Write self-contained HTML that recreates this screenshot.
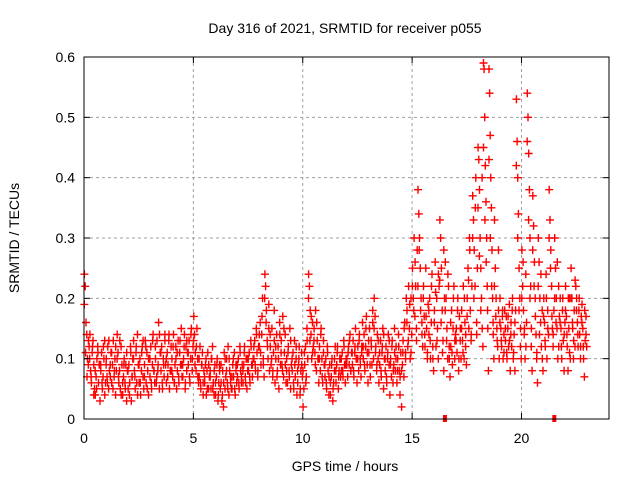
<!DOCTYPE html>
<html><head><meta charset="utf-8"><style>
body{margin:0;background:#fff}
svg{display:block;font-family:"Liberation Sans",sans-serif}
</style></head><body>
<svg id="chart" width="640" height="480">
<rect width="640" height="480" fill="#fff"/>
<g id="grid"></g>
<g id="pts"></g>
<rect x="84" y="57" width="525" height="362" fill="none" stroke="#000" stroke-width="1"/>
<g id="ticks"></g>
<text x="345" y="33" text-anchor="middle" font-size="14">Day 316 of 2021, SRMTID for receiver p055</text>
<text x="345" y="471" text-anchor="middle" font-size="14">GPS time / hours</text>
<text transform="translate(19,238) rotate(-90)" text-anchor="middle" font-size="14">SRMTID / TECUs</text>
</svg>
<script>
const xTicks=[0,5,10,15,20];
const yTicks=[0,0.1,0.2,0.3,0.4,0.5,0.6];
const yTickLabels=["0","0.1","0.2","0.3","0.4","0.5","0.6"];
const gapMarks=[16.5,21.5];
const binStart=[0,0.25,0.5,0.75,1,1.25,1.5,1.75,2,2.25,2.5,2.75,3,3.25,3.5,3.75,4,4.25,4.5,4.75,5,5.25,5.5,5.75,6,6.25,6.5,6.75,7,7.25,7.5,7.75,8,8.25,8.5,8.75,9,9.25,9.5,9.75,10,10.25,10.5,10.75,11,11.25,11.5,11.75,12,12.25,12.5,12.75,13,13.25,13.5,13.75,14,14.25,14.5,14.75,15,15.25,15.5,15.75,16,16.25,16.5,16.75,17,17.25,17.5,17.75,18,18.25,18.5,18.75,19,19.25,19.5,19.75,20,20.25,20.5,20.75,21,21.25,21.5,21.75,22,22.25,22.5,22.75];
const binValues=[
[.24,.22,.16,.14,.10,.09,.12],[.14,.08,.06,.11,.13,.09,.05],[.04,.07,.1,.12,.06,.09,.03],[.08,.11,.05,.07,.1,.13,.06],
[.1,.07,.12,.05,.08,.09,.11],[.06,.09,.13,.07,.1,.04,.08],[.14,.11,.06,.08,.05,.12,.09],[.04,.07,.1,.06,.09,.03,.08],
[.05,.09,.06,.12,.03,.07,.1],[.13,.08,.05,.11,.06,.14,.09],[.06,.1,.04,.08,.12,.07,.05],[.09,.13,.06,.11,.08,.04,.1],
[.07,.12,.05,.09,.14,.08,.06],[.1,.06,.13,.08,.16,.05,.11],[.08,.12,.05,.1,.07,.14,.09],[.06,.11,.09,.13,.05,.08,.12],
[.1,.07,.14,.06,.09,.12,.05],[.08,.13,.06,.11,.09,.15,.07],[.07,.1,.14,.05,.12,.08,.11],[.09,.13,.06,.1,.15,.08,.12],
[.17,.14,.11,.08,.15,.1,.06],[.07,.12,.05,.09,.11,.06,.08],[.06,.09,.04,.08,.11,.05,.07],[.08,.05,.1,.12,.06,.04,.09],
[.04,.07,.1,.03,.06,.09,.05],[.06,.03,.08,.02,.11,.05,.07],[.1,.06,.12,.04,.08,.07,.05],[.05,.09,.07,.11,.04,.08,.06],
[.07,.1,.05,.12,.08,.06,.09],[.06,.09,.12,.07,.1,.05,.08],[.08,.11,.06,.13,.09,.07,.1],[.1,.13,.08,.15,.11,.07,.12],
[.12,.16,.09,.14,.2,.1,.07],[.24,.22,.18,.13,.1,.15,.08],[.12,.09,.15,.07,.11,.18,.06],[.1,.14,.08,.12,.05,.16,.09],
[.13,.09,.17,.07,.11,.14,.06],[.1,.06,.12,.08,.15,.05,.09],[.08,.11,.05,.13,.07,.1,.04],[.06,.09,.12,.04,.08,.11,.07],
[.02,.05,.09,.12,.07,.15,.1],[.24,.22,.18,.14,.1,.16,.12],[.15,.11,.18,.08,.13,.1,.06],[.12,.08,.15,.1,.06,.13,.09],
[.07,.1,.05,.12,.08,.04,.09],[.04,.07,.1,.03,.06,.08,.12],[.06,.09,.12,.05,.08,.1,.07],[.08,.11,.07,.13,.09,.06,.1],
[.1,.07,.12,.09,.14,.08,.11],[.09,.13,.07,.11,.15,.1,.06],[.12,.08,.14,.1,.07,.11,.16],[.1,.14,.08,.12,.17,.09,.06],
[.11,.15,.07,.13,.09,.18,.1],[.2,.17,.12,.08,.14,.1,.06],[.09,.13,.07,.11,.15,.05,.1],[.08,.12,.06,.1,.14,.09,.04],
[.1,.07,.13,.06,.09,.15,.08],[.12,.06,.1,.14,.08,.04,.11],[.02,.09,.13,.07,.16,.11,.2],[.18,.12,.22,.15,.1,.2,.14],
[.25,.2,.3,.17,.22,.15,.28],[.38,.34,.3,.25,.2,.16,.12],[.22,.17,.12,.25,.15,.1,.19],[.14,.2,.1,.16,.24,.12,.08],
[.18,.26,.12,.2,.15,.1,.22],[.33,.3,.25,.18,.13,.08,.2],[.26,.2,.15,.1,.22,.12,.07],[.12,.18,.09,.15,.22,.1,.14],
[.15,.11,.2,.08,.17,.13,.1],[.18,.13,.22,.1,.16,.12,.09],[.2,.25,.15,.3,.18,.13,.22],[.37,.33,.28,.22,.4,.16,.25],
[.45,.43,.38,.3,.25,.2,.15,.12],[.59,.58,.5,.42,.36,.3,.22,.15,.08],[.58,.54,.47,.4,.35,.28,.2,.14,.1],[.33,.25,.2,.15,.12,.18,.1],
[.2,.15,.12,.17,.1,.14,.18],[.13,.17,.1,.15,.12,.19,.08],[.16,.12,.2,.1,.14,.08,.18],[.53,.46,.4,.34,.25,.2,.15,.1],
[.28,.22,.18,.14,.1,.24,.16],[.54,.5,.44,.38,.3,.22,.15,.08],[.37,.32,.26,.2,.14,.1,.06],[.3,.26,.2,.16,.12,.18,.08],
[.2,.16,.12,.24,.1,.18,.14],[.38,.33,.28,.22,.15,.12,.18],[.3,.25,.2,.15,.1,.22,.17],[.2,.15,.1,.18,.13,.08,.16],
[.22,.17,.12,.08,.15,.2,.1],[.25,.2,.15,.1,.18,.12,.22],[.2,.16,.12,.18,.14,.1,.17],[.19,.15,.1,.07,.13,.17,.12]
];
const binValuesB=[
[.19,.11,.07,.13],[.1,.07,.12,.04],[.08,.05,.11,.09],[.09,.06,.12,.04],
[.09,.06,.13,.07],[.11,.05,.08,.12],[.1,.07,.13,.04],[.06,.09,.05,.11],
[.08,.04,.11,.07],[.1,.07,.12,.04],[.09,.06,.11,.13],[.07,.12,.05,.1],
[.1,.06,.13,.08],[.12,.07,.09,.14],[.11,.06,.09,.13],[.1,.07,.14,.08],
[.08,.12,.06,.1],[.11,.07,.13,.09],[.09,.12,.06,.13],[.11,.07,.14,.1],
[.13,.09,.12,.07],[.1,.06,.09,.04],[.07,.1,.05,.09],[.07,.1,.05,.08],
[.06,.09,.04,.08],[.09,.04,.06,.1],[.08,.05,.1,.06],[.07,.1,.05,.09],
[.09,.06,.11,.07],[.08,.11,.06,.1],[.1,.07,.12,.09],[.12,.09,.14,.08],
[.14,.11,.17,.09],[.2,.16,.12,.19],[.14,.1,.08,.13],[.12,.07,.1,.14],
[.11,.08,.15,.09],[.08,.11,.07,.13],[.1,.06,.09,.12],[.08,.1,.05,.09],
[.08,.11,.06,.13],[.2,.13,.17,.11],[.13,.09,.16,.1],[.1,.14,.07,.11],
[.09,.06,.11,.07],[.06,.09,.05,.1],[.08,.11,.07,.1],[.1,.08,.12,.09],
[.09,.11,.13,.08],[.11,.08,.12,.1],[.1,.13,.09,.12],[.12,.09,.15,.11],
[.13,.09,.12,.16],[.15,.11,.09,.13],[.11,.08,.12,.14],[.1,.07,.11,.13],
[.09,.12,.08,.11],[.1,.08,.12,.07],[.08,.11,.15,.1],[.16,.13,.19,.11],
[.22,.18,.26,.13],[.22,.28,.18,.14],[.2,.14,.17,.11],[.18,.13,.22,.1],
[.16,.21,.13,.24],[.23,.16,.11,.28],[.18,.13,.24,.1],[.16,.11,.2,.13],
[.13,.18,.1,.15],[.15,.11,.2,.14],[.17,.23,.28,.14],[.3,.2,.35,.14],
[.35,.27,.18,.4],[.45,.33,.26,.18],[.43,.3,.22,.16],[.22,.17,.13,.28],
[.16,.13,.18,.11],[.15,.11,.17,.13],[.14,.18,.11,.16],[.42,.3,.18,.12],
[.2,.26,.15,.12],[.46,.33,.2,.12],[.28,.22,.17,.11],[.22,.14,.24,.1],
[.17,.13,.2,.15],[.3,.25,.17,.14],[.2,.16,.26,.12],[.16,.12,.2,.14],
[.18,.14,.2,.11],[.2,.16,.13,.23],[.18,.14,.2,.12],[.16,.12,.18,.14]
];
const X0=84,X1=609,Y0=419,Y1=57,XMAX=24,YMAX=0.6,BIN=0.25;
function xs(v){return X0+(v/XMAX)*(X1-X0);}
function ys(v){return Y0-(v/YMAX)*(Y0-Y1);}
const NS="http://www.w3.org/2000/svg";
const grid=document.getElementById('grid'),ticks=document.getElementById('ticks'),pts=document.getElementById('pts');
function mk(tag,attrs,parent){const e=document.createElementNS(NS,tag);for(const k in attrs)e.setAttribute(k,attrs[k]);parent.appendChild(e);return e;}
xTicks.forEach(t=>{
  const x=xs(t);
  if(t>0){const g=mk('line',{x1:x,x2:x,y1:Y1,y2:Y0,stroke:'#a0a0a0','stroke-dasharray':'3,3'},grid);
  
  }
  mk('line',{x1:x,x2:x,y1:Y0,y2:Y0-6,stroke:'#000'},ticks);
  mk('line',{x1:x,x2:x,y1:Y1,y2:Y1+6,stroke:'#000'},ticks);
  const l=mk('text',{x:x,y:Y0+24,'text-anchor':'middle','font-size':'14'},ticks);
  l.textContent=t;
  
  
});
yTicks.forEach((t,i)=>{
  const y=ys(t);
  if(i>0&&i<yTicks.length-1){const g=mk('line',{x1:X0,x2:X1,y1:y,y2:y,stroke:'#a0a0a0','stroke-dasharray':'3,3'},grid);
  
  }
  mk('line',{x1:X0,x2:X0+6,y1:y,y2:y,stroke:'#000'},ticks);
  mk('line',{x1:X1,x2:X1-6,y1:y,y2:y,stroke:'#000'},ticks);
  const l=mk('text',{x:X0-9,y:y+5,'text-anchor':'end','font-size':'14'},ticks);
  l.textContent=yTickLabels[i];
  
  
});
function pathFor(values,offset){
  let d='';
  binStart.forEach((s,b)=>{
    const vals=values[b];
    vals.forEach((v,i)=>{
      const x=xs(s+(i+offset)/vals.length*BIN),y=ys(v);
      d+=`M${(x-4).toFixed(1)} ${y.toFixed(1)}h8M${x.toFixed(1)} ${(y-4).toFixed(1)}v8`;
    });
  });
  return d;
}
const pb=mk('path',{d:pathFor(binValuesB,0.2),stroke:'#ff0000','stroke-width':'1.4',fill:'none'},pts);


const p=mk('path',{d:pathFor(binValues,0.5),stroke:'#ff0000','stroke-width':'1.4',fill:'none'},pts);


gapMarks.forEach(g=>{
  const r=mk('rect',{x:xs(g)-2,y:Y0-4,width:4,height:7,fill:'#ff0000'},pts);
  
  
});
</script>
</body></html>
